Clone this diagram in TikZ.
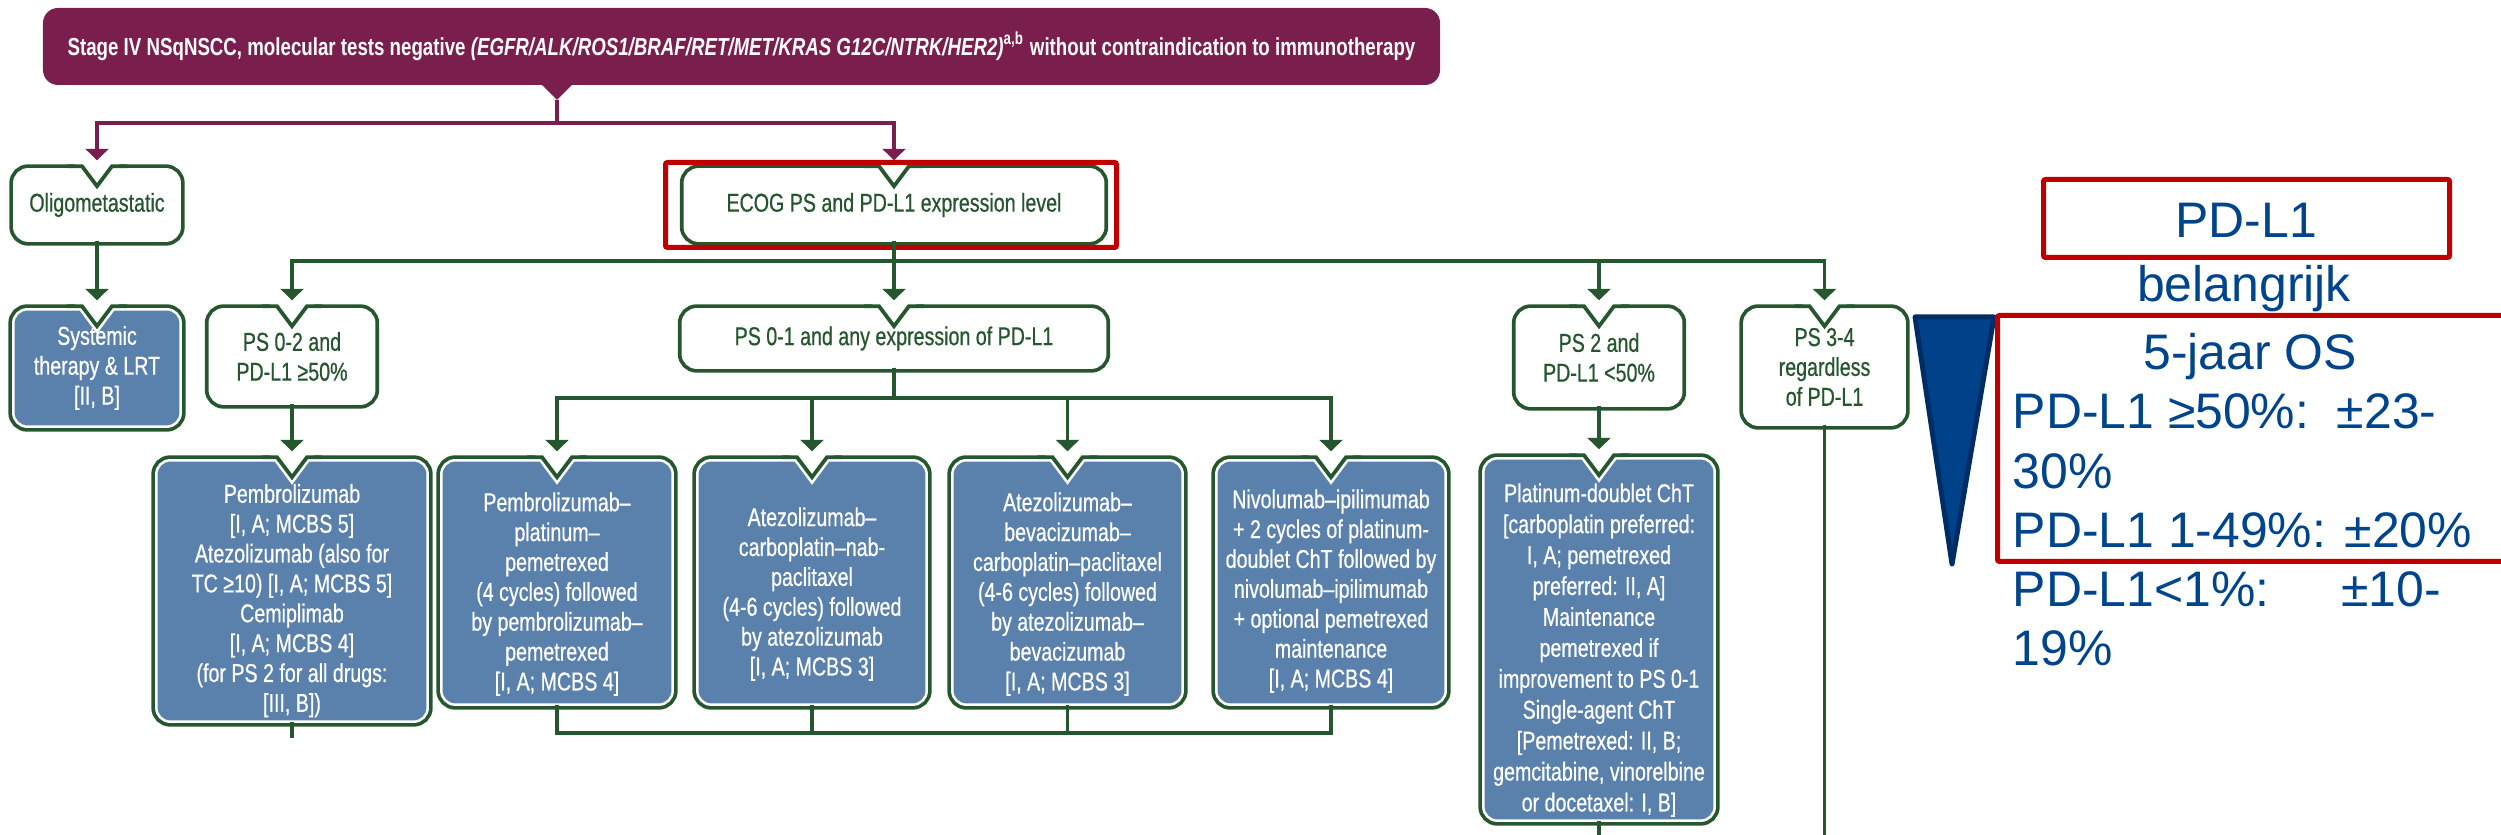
\documentclass[tikz,border=0pt]{standalone}
\usepackage{fontspec}
\setmainfont{Liberation Sans}
\newfontfamily\fcfont[FakeStretch=0.76,FakeBold=0.6]{Liberation Sans}
\newfontfamily\stagefont[FakeStretch=0.76]{Liberation Sans}
\usetikzlibrary{arrows.meta,calc,positioning,backgrounds}

\definecolor{fcgreen}{RGB}{38,86,46}
\definecolor{fcblue}{RGB}{90,128,172}
\definecolor{fcpurple}{RGB}{122,31,77}
\definecolor{hlred}{RGB}{192,0,0}
\definecolor{osblue}{RGB}{0,68,139}
\definecolor{wedgefill}{RGB}{0,66,137}
\definecolor{wedgeedge}{RGB}{0,44,102}

\newcommand{\fcsize}{\fcfont\fontsize{7.35}{8.5}\selectfont}
\newcommand{\fcloose}{\fcfont\fontsize{7.35}{8.8}\selectfont}
\newcommand{\fcbold}{\stagefont\bfseries\fontsize{7.0}{8.2}\selectfont}
\newcommand{\ossize}{\fontsize{14.2}{16.8}\selectfont}
% taller first line, pushes the text of a box down
\newcommand{\dropline}[1]{\rule{0pt}{#1}}

% rounded frame with the arrow notch, drawn behind a named node
\newcommand{\fcframe}[2]{%
  \draw[rounded corners=0.14cm, fill=#2, draw=white, line width=0.025cm,
    preaction={draw=fcgreen, line width=0.10cm}] (#1.south west) rectangle (#1.north east);
  \fill[white] ($(#1.north)+(-0.23,0.065)$) -- ($(#1.north)+(0.23,0.065)$)
    -- ($(#1.north)+(0,-0.245)$) -- cycle;
  \draw[draw=fcgreen, line width=0.0375cm, line join=miter]
    ($(#1.north)+(-0.3,0.031)$) -- ($(#1.north)+(-0.15,0.031)$) -- ($(#1.north)+(0,-0.169)$)
    -- ($(#1.north)+(0.15,0.031)$) -- ($(#1.north)+(0.3,0.031)$);
}

\begin{document}
\begin{tikzpicture}[
  line cap=butt,
  line join=miter,
  fcline/.style={draw=fcgreen, line width=0.038cm},
  fcarrow/.style={fcline, -{Triangle[length=0.115cm,width=0.23cm]}},
  plarrow/.style={draw=fcpurple, line width=0.036cm, -{Triangle[length=0.115cm,width=0.23cm]}},
  fcbox/.style={rectangle, inner sep=0pt, align=center, text=fcgreen, font=\fcsize},
  fctreat/.style={fcbox, text=white},
  stagebox/.style={fill=fcpurple, rounded corners=0.15cm, inner sep=0pt, text=white, font=\fcbold},
  hlframe/.style={draw=hlred, line width=0.05cm, rounded corners=0.02cm},
  ostext/.style={text=osblue, font=\ossize, inner sep=0pt}
]

\def\tipgap{0.09cm}

\useasboundingbox (0,0) rectangle (25.01,8.35);
\clip (0,0) rectangle (25.01,8.35);

% Banner on top.
\node[stagebox, minimum width=13.97cm, minimum height=0.77cm] (stage) at (7.415,7.885)
  {Stage IV NSqNSCC, molecular tests negative \textit{(EGFR/ALK/ROS1/BRAF/RET/MET/KRAS G12C/NTRK/HER2)}\textsuperscript{a,b} without contraindication to immunotherapy};
\coordinate (stagetip) at (5.57,7.35);
\fill[fcpurple] ($(stagetip)+(-0.17,0.17)$) -- ($(stagetip)+(0.17,0.17)$) -- (stagetip) -- cycle;

% Decision boxes.
\node[fcbox, minimum width=1.64cm, minimum height=0.70cm] (oligo) at (0.97,6.30) {Oligometastatic};
\node[fcbox, minimum width=4.17cm, minimum height=0.70cm] (ecog) at (8.94,6.30) {ECOG PS and PD-L1 expression level};
\node[fcbox, minimum width=1.63cm, minimum height=0.93cm] (ps02) at (2.92,4.785) {PS 0-2 and\\PD-L1 ≥50\%};
\node[fcbox, minimum width=4.21cm, minimum height=0.57cm] (ps01) at (8.94,4.965) {PS 0-1 and any expression of PD-L1};
\node[fcbox, minimum width=1.63cm, minimum height=0.95cm] (ps2) at (15.99,4.775) {PS 2 and\\PD-L1 <50\%};
\node[fcbox, minimum width=1.59cm, minimum height=1.14cm] (ps34) at (18.245,4.68) {PS 3-4\\regardless\\of PD-L1};

% Treatment boxes.
\node[fctreat, minimum width=1.66cm, minimum height=1.16cm] (systemic) at (0.97,4.67)
  {Systemic\\therapy \& LRT\\{}[II, B]};
\node[fctreat, minimum width=2.70cm, minimum height=2.60cm] (pembro) at (2.92,2.44)
  {\dropline{0.38cm}Pembrolizumab\\{}[I, A; MCBS 5]\\Atezolizumab (also for\\TC ≥10) [I, A; MCBS 5]\\Cemiplimab\\{}[I, A; MCBS 4]\\(for PS 2 for all drugs:\\{}[III, B])};
\node[fctreat, minimum width=2.30cm, minimum height=2.43cm] (pembroPlat) at (5.57,2.525)
  {\dropline{0.42cm}Pembrolizumab–\\platinum–\\pemetrexed\\(4 cycles) followed\\by pembrolizumab–\\pemetrexed\\{}[I, A; MCBS 4]};
\node[fctreat, minimum width=2.28cm, minimum height=2.43cm] (atezoCarbo) at (8.12,2.525)
  {\dropline{0.42cm}Atezolizumab–\\carboplatin–nab-\\paclitaxel\\(4-6 cycles) followed\\by atezolizumab\\{}[I, A; MCBS 3]};
\node[fctreat, minimum width=2.29cm, minimum height=2.43cm] (atezoBev) at (10.675,2.525)
  {\dropline{0.42cm}Atezolizumab–\\bevacizumab–\\carboplatin–paclitaxel\\(4-6 cycles) followed\\by atezolizumab–\\bevacizumab\\{}[I, A; MCBS 3]};
\node[fctreat, minimum width=2.28cm, minimum height=2.43cm] (nivo) at (13.31,2.525)
  {\dropline{0.36cm}Nivolumab–ipilimumab\\+ 2 cycles of platinum-\\doublet ChT followed by\\nivolumab–ipilimumab\\+ optional pemetrexed\\maintenance\\{}[I, A; MCBS 4]};
\node[fctreat, font=\fcloose, minimum width=2.30cm, minimum height=3.61cm] (platinum) at (15.99,1.955)
  {\dropline{0.40cm}Platinum-doublet ChT\\{}[carboplatin preferred:\\I, A; pemetrexed\\preferred: II, A]\\Maintenance\\pemetrexed if\\improvement to PS 0-1\\Single-agent ChT\\{}[Pemetrexed: II, B;\\gemcitabine, vinorelbine\\or docetaxel: I, B]};

% Frames behind the boxes.
\begin{pgfonlayer}{background}
  \foreach \nm in {oligo,ecog,ps02,ps01,ps2,ps34}{
    \fcframe{\nm}{white}
  }
  \foreach \nm in {systemic,pembro,pembroPlat,atezoCarbo,atezoBev,nivo,platinum}{
    \fcframe{\nm}{fcblue}
  }
\end{pgfonlayer}

\draw[hlframe] (6.655,5.875) rectangle (11.165,6.725);

% Connectors.
\draw[plarrow] (stagetip) -- ++(0,-0.23) -| ([yshift=\tipgap]oligo.north);
\draw[plarrow] (stagetip) -- ++(0,-0.23) -| ([yshift=\tipgap]ecog.north);

\draw[fcarrow] (oligo.south) -- ([yshift=\tipgap]systemic.north);
\draw[fcarrow] (ecog.south) -- ([yshift=\tipgap]ps01.north);
\foreach \nm in {ps02,ps2,ps34}{
  \draw[fcarrow] (ecog.south) -- ++(0,-0.20) -| ([yshift=\tipgap]\nm.north);
}
\draw[fcarrow] (ps02.south) -- ([yshift=\tipgap]pembro.north);
\foreach \nm in {pembroPlat,atezoCarbo,atezoBev,nivo}{
  \draw[fcarrow] (ps01.south) -- ++(0,-0.30) -| ([yshift=\tipgap]\nm.north);
}
\draw[fcarrow] (ps2.south) -- ([yshift=\tipgap]platinum.north);

\draw[fcline] (pembroPlat.south) -- ++(0,-0.28) -| (nivo.south);
\draw[fcline] (atezoCarbo.south) -- ++(0,-0.28);
\draw[fcline] (atezoBev.south) -- ++(0,-0.28);
\draw[fcline] (pembro.south) -- ++(0,-0.16);
\draw[fcline] (ps34.south) -- ++(0,-4.5);
\draw[fcarrow] (platinum.south) -- ++(0,-0.3);

% Survival note on the right.
\filldraw[fill=wedgefill, draw=wedgeedge, line width=0.05cm, line join=round]
  (19.15,5.18) -- (19.94,5.18) -- (19.52,2.71) -- cycle;
\draw[hlframe] (20.435,5.775) rectangle (24.495,6.555);
\draw[hlframe] (19.975,2.735) rectangle (25.2,5.195);

\node[ostext, anchor=base] (pdlTitle) at (22.46,5.97) {PD-L1};
\node[ostext, anchor=base] (pdlNote) at (22.44,5.33) {belangrijk};
\node[ostext, anchor=base] (osTitle) at (22.50,4.65) {5-jaar OS};
\node[ostext, anchor=base west] (osList) at (20.12,4.06)
  {\begin{tabular}[t]{@{}l@{}}PD-L1 ≥50\%:\ \ ±23-\\30\%\\PD-L1 1-49\%: ±20\%\\PD-L1<1\%:\hspace{0.72cm}±10-\\19\%\end{tabular}};

\end{tikzpicture}
\end{document}
